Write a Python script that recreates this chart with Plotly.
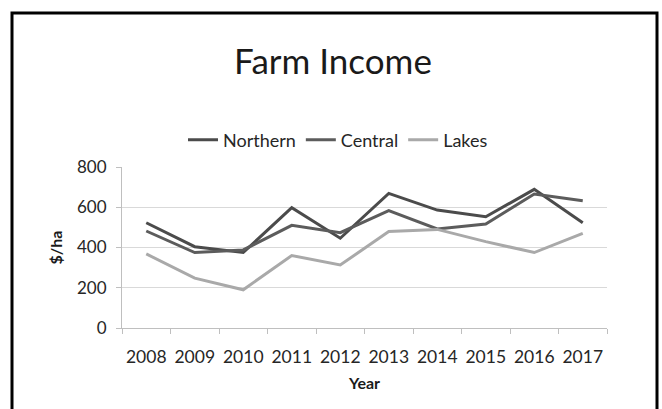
import plotly.graph_objects as go

years = ["2008", "2009", "2010", "2011", "2012", "2013", "2014", "2015", "2016", "2017"]
northern = [523, 404, 375, 598, 446, 669, 586, 553, 689, 523]
central = [482, 375, 388, 510, 474, 583, 492, 517, 666, 632]
lakes = [368, 248, 190, 360, 313, 479, 490, 429, 375, 470]

series = [
    ("Northern", northern, "#4b4b4b"),
    ("Central", central, "#5c5c5c"),
    ("Lakes", lakes, "#a9a9a9"),
]

W, H = 662, 409
L, R, T, B = 122, 55, 167, 81
FONT = "Lato"

fig = go.Figure()
for name, vals, col in series:
    fig.add_trace(go.Scatter(
        x=years, y=vals, name=name, mode="lines",
        line=dict(color=col, width=3),
    ))

def px_x(p):
    return (p - L) / (W - L - R)

def px_y(p):
    return (H - B - p) / (H - T - B)

fig.update_layout(
    width=W, height=H,
    margin=dict(l=L, r=R, t=T, b=B, autoexpand=False),
    paper_bgcolor="white", plot_bgcolor="white",
    font=dict(family=FONT, color="#262626"),
    title=dict(text="Farm Income", x=333 / W, xanchor="center", xref="container",
               y=1 - 62 / H, yanchor="middle", yref="container",
               font=dict(size=35, color="#1a1a1a", family=FONT)),
    legend=dict(orientation="h", x=px_x(338), xanchor="center",
                y=1 - 140 / H, yanchor="middle", yref="container",
                itemwidth=30, font=dict(size=18, color="#262626"),
                tracegroupgap=0, bgcolor="rgba(0,0,0,0)"),
    showlegend=True,
    xaxis=dict(type="category", range=[-0.5, len(years) - 0.5],
               tickson="boundaries", ticks="outside", tickangle=0,
               ticklen=5, tickcolor="#bfbfbf", showline=True,
               linecolor="#bfbfbf", linewidth=1, showgrid=False,
               tickfont=dict(size=17.5, color="#262626"),
               ticklabelstandoff=13,
               title=dict(text="<b>Year</b>", font=dict(size=16, color="#1a1a1a"),
                          standoff=11)),
    yaxis=dict(range=[0, 800], dtick=200, ticks="outside", ticklen=5,
               tickcolor="#bfbfbf", showline=True, linecolor="#bfbfbf",
               linewidth=1, showgrid=True, gridcolor="#d9d9d9", gridwidth=1,
               zeroline=False, tickfont=dict(size=17, color="#262626"),
               ticklabelstandoff=6,
               title=dict(text="<b>$/ha</b>", font=dict(size=16, color="#1a1a1a"),
                          standoff=10)),
    shapes=[dict(type="rect", xref="paper", yref="paper",
                 x0=px_x(12), x1=px_x(657), y0=px_y(H + 10), y1=px_y(13),
                 line=dict(color="black", width=3), layer="below")],
)

fig.write_html("out.html")
